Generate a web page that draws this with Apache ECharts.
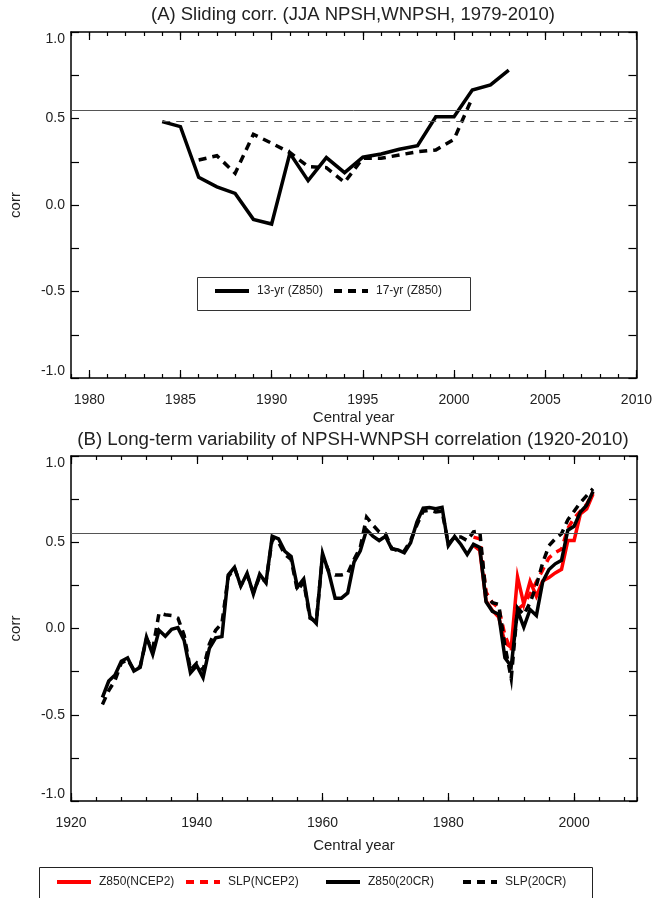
<!DOCTYPE html>
<html>
<head>
<meta charset="utf-8">
<script src="https://cdn.jsdelivr.net/npm/echarts@6/dist/echarts.min.js"></script>
<style>
html,body{margin:0;padding:0;background:#fff;}
#chart{width:655px;height:898px;}
</style>
</head>
<body>
<div id="chart"></div>
<script>
// ---------- Panel A data ----------
const yearsA13 = [1984,1985,1986,1987,1988,1989,1990,1991,1992,1993,1994,1995,1996,1997,1998,1999,2000,2001,2002,2003];
const corrA13  = [0.482,0.453,0.16,0.105,0.067,-0.083,-0.11,0.299,0.141,0.274,0.187,0.276,0.295,0.322,0.343,0.51,0.51,0.665,0.694,0.78];
const yearsA17 = [1986,1987,1988,1989,1990,1991,1992,1993,1994,1995,1996,1997,1998,1999,2000,2001];
const corrA17  = [0.26,0.285,0.183,0.409,0.357,0.303,0.222,0.216,0.131,0.27,0.27,0.289,0.308,0.318,0.38,0.62];
const sigA13 = 0.553;
const sigA17 = 0.482;
const sigA17Start = 1984;
const xTicksA = [1980,1985,1990,1995,2000,2005,2010];

// ---------- Panel B data ----------
const yearsNCEP = [1984,1985,1986,1987,1988,1989,1990,1991,1992,1993,1994,1995,1996,1997,1998,1999,2000,2001,2002,2003];
const z850NCEP2 = [0.482,0.453,0.16,0.105,0.067,-0.083,-0.11,0.299,0.141,0.274,0.187,0.276,0.295,0.322,0.343,0.51,0.51,0.665,0.694,0.78];
const slpNCEP2  = [0.53,0.52,0.21,0.15,0.12,-0.04,-0.13,0.11,0.14,0.20,0.27,0.34,0.41,0.44,0.46,0.58,0.64,0.68,0.72,0.79];
const years20CR = [1925,1926,1927,1928,1929,
  1930,1931,1932,1933,1934,1935,1936,1937,1938,1939,
  1940,1941,1942,1943,1944,1945,1946,1947,1948,1949,
  1950,1951,1952,1953,1954,1955,1956,1957,1958,1959,
  1960,1961,1962,1963,1964,1965,1966,1967,1968,1969,
  1970,1971,1972,1973,1974,1975,1976,1977,1978,1979,
  1980,1981,1982,1983,1984,1985,1986,1987,1988,1989,
  1990,1991,1992,1993,1994,1995,1996,1997,1998,1999,
  2000,2001,2002,2003];
const z85020CR = [-0.40,-0.305,-0.27,-0.19,-0.17,
  -0.247,-0.225,-0.05,-0.15,-0.01,-0.045,-0.005,0.005,-0.07,-0.257,
  -0.215,-0.285,-0.115,-0.054,-0.047,0.31,0.355,0.245,0.32,0.20,
  0.315,0.265,0.535,0.52,0.448,0.417,0.24,0.287,0.07,0.03,
  0.435,0.323,0.176,0.176,0.206,0.385,0.45,0.572,0.535,0.51,
  0.535,0.462,0.456,0.439,0.497,0.617,0.698,0.701,0.695,0.703,
  0.48,0.533,0.487,0.429,0.488,0.47,0.155,0.10,0.083,-0.17,
  -0.22,0.105,0.008,0.11,0.075,0.27,0.342,0.375,0.395,0.57,
  0.593,0.675,0.715,0.795];
const slp20CR = [-0.44,-0.36,-0.30,-0.20,-0.18,
  -0.24,-0.22,-0.06,-0.12,0.09,0.08,0.075,0.06,-0.04,-0.24,
  -0.20,-0.24,-0.09,-0.01,0.03,0.30,0.35,0.25,0.31,0.21,
  0.30,0.27,0.52,0.50,0.43,0.40,0.22,0.27,0.06,0.04,
  0.42,0.33,0.31,0.31,0.32,0.40,0.47,0.645,0.60,0.56,
  0.55,0.465,0.45,0.45,0.51,0.60,0.68,0.685,0.675,0.68,
  0.49,0.53,0.53,0.51,0.56,0.565,0.19,0.15,0.14,-0.10,
  -0.29,0.12,0.08,0.15,0.25,0.38,0.48,0.52,0.55,0.63,
  0.68,0.73,0.77,0.81];
const sigB = 0.553;
const xTicksB = [1920,1940,1960,1980,2000];

// ---------- helpers ----------
const pairs = (xs, ys) => xs.map((x, i) => [x, ys[i]]);
const FONT = "'Liberation Sans', Arial, Helvetica, sans-serif";
const TXT = '#222';
const dash = [8, 6];
const LW = 3.5;

function xMajor(grid, min, max, ticks, pos, withLabel, name, nameGap) {
  return {
    type: 'value', gridIndex: grid, min: min, max: max, position: pos,
    axisLine: { show: true, onZero: false, lineStyle: { color: '#000', width: 1.5 } },
    axisTick: { show: true, inside: true, length: 8, customValues: ticks, lineStyle: { color: '#000', width: 1.2 } },
    axisLabel: { show: withLabel, customValues: ticks, fontSize: 14, color: TXT, fontFamily: FONT, margin: 15,
      formatter: v => String(v) },
    splitLine: { show: false },
    name: name || '', nameLocation: 'middle', nameGap: nameGap || 0,
    nameTextStyle: { fontSize: 15, color: TXT, fontFamily: FONT }
  };
}
function xMinor(grid, min, max, interval, pos) {
  return {
    type: 'value', gridIndex: grid, min: min, max: max, interval: interval, position: pos,
    axisLine: { show: false, onZero: false },
    axisTick: { show: true, inside: true, length: 4, lineStyle: { color: '#000', width: 1.2 } },
    axisLabel: { show: false }, splitLine: { show: false }
  };
}
function yAx(grid, pos, withLabel) {
  return {
    type: 'value', gridIndex: grid, min: -1, max: 1, interval: 0.25, position: pos,
    axisLine: { show: true, onZero: false, lineStyle: { color: '#000', width: 1.5 } },
    axisTick: { show: true, inside: true, length: 8, lineStyle: { color: '#000', width: 1.2 } },
    axisLabel: {
      show: withLabel, fontSize: 14, color: TXT, fontFamily: FONT, margin: 6,
      verticalAlignMinLabel: 'bottom', verticalAlignMaxLabel: 'top',
      formatter: v => (Math.abs(v * 2 - Math.round(v * 2)) < 1e-9 ? v.toFixed(1) : '')
    },
    splitLine: { show: false },
    name: withLabel ? 'corr' : '', nameLocation: 'middle', nameGap: 48, nameRotate: 90,
    nameTextStyle: { fontSize: 15, color: TXT, fontFamily: FONT }
  };
}
function lineSeries(name, xi, yi, data, color, dashed, extra) {
  return Object.assign({
    name: name, type: 'line', xAxisIndex: xi, yAxisIndex: yi, data: data,
    symbol: 'none', showSymbol: false, silent: true,
    lineStyle: { color: color, width: LW, type: dashed ? dash : 'solid', cap: 'butt', join: 'miter' },
    itemStyle: { color: color }
  }, extra || {});
}
function legendItem(name, left, top) {
  return {
    data: [name], left: left, top: top, padding: 0, itemWidth: 34, itemHeight: 12,
    selectedMode: false,
    itemStyle: { opacity: 0 },
    lineStyle: { opacity: 1, width: 4 },
    textStyle: { fontSize: 12, color: TXT, fontFamily: FONT, padding: [0, 0, 0, 3] }
  };
}

const chart = echarts.init(document.getElementById('chart'), null, { renderer: 'canvas' });
chart.setOption({
  animation: false,
  backgroundColor: '#fff',
  textStyle: { fontFamily: FONT },
  title: [
    { text: '(A) Sliding corr. (JJA NPSH,WNPSH, 1979-2010)', left: 353, top: 5, textAlign: 'center', padding: 0,
      textStyle: { fontSize: 18.5, fontWeight: 'normal', color: TXT, fontFamily: FONT } },
    { text: '(B) Long-term variability of NPSH-WNPSH correlation (1920-2010)', left: 353, top: 430, textAlign: 'center', padding: 0,
      textStyle: { fontSize: 18.7, fontWeight: 'normal', color: TXT, fontFamily: FONT } }
  ],
  grid: [
    { left: 69, top: 32, width: 568, height: 346 },
    { left: 69, top: 456, width: 568, height: 345 }
  ],
  xAxis: [
    xMajor(0, 1979, 2010, xTicksA, 'bottom', true, 'Central year', 32),
    xMinor(0, 1979, 2010, 1, 'bottom'),
    xMajor(0, 1979, 2010, xTicksA, 'top', false),
    xMinor(0, 1979, 2010, 1, 'top'),
    xMajor(1, 1920, 2010, xTicksB, 'bottom', true, 'Central year', 37),
    xMinor(1, 1920, 2010, 4, 'bottom'),
    xMajor(1, 1920, 2010, xTicksB, 'top', false),
    xMinor(1, 1920, 2010, 4, 'top')
  ],
  yAxis: [
    yAx(0, 'left', true),
    yAx(0, 'right', false),
    yAx(1, 'left', true),
    yAx(1, 'right', false)
  ],
  legend: [
    legendItem('13-yr (Z850)', 213, 285),
    legendItem('17-yr (Z850)', 332, 285),
    legendItem('Z850(NCEP2)', 55, 876),
    legendItem('SLP(NCEP2)', 184, 876),
    legendItem('Z850(20CR)', 324, 876),
    legendItem('SLP(20CR)', 461, 876)
  ],
  graphic: [
    { type: 'rect', left: 195, top: 275, shape: { width: 273, height: 33 }, silent: true,
      style: { fill: 'none', stroke: '#333', lineWidth: 1 } },
    { type: 'rect', left: 37, top: 865, shape: { width: 553, height: 40 }, silent: true,
      style: { fill: 'none', stroke: '#222', lineWidth: 1 } }
  ],
  series: [
    lineSeries('13-yr (Z850)', 0, 0, pairs(yearsA13, corrA13), '#000', false, {
      markLine: {
        silent: true, symbol: ['none', 'none'], label: { show: false },
        data: [
          { yAxis: sigA13, lineStyle: { color: '#555', width: 1, type: 'solid' } },
          [ { coord: [sigA17Start, sigA17], lineStyle: { color: '#555', width: 1, type: [8, 6] } },
            { coord: [2010, sigA17] } ]
        ]
      }
    }),
    lineSeries('17-yr (Z850)', 0, 0, pairs(yearsA17, corrA17), '#000', true),
    lineSeries('Z850(NCEP2)', 4, 2, pairs(yearsNCEP, z850NCEP2), '#ff0000', false, {
      markLine: {
        silent: true, symbol: ['none', 'none'], label: { show: false },
        data: [ { yAxis: sigB, lineStyle: { color: '#555', width: 1, type: 'solid' } } ]
      }
    }),
    lineSeries('SLP(NCEP2)', 4, 2, pairs(yearsNCEP, slpNCEP2), '#ff0000', true),
    lineSeries('Z850(20CR)', 4, 2, pairs(years20CR, z85020CR), '#000', false),
    lineSeries('SLP(20CR)', 4, 2, pairs(years20CR, slp20CR), '#000', true)
  ]
});
</script>
</body>
</html>
